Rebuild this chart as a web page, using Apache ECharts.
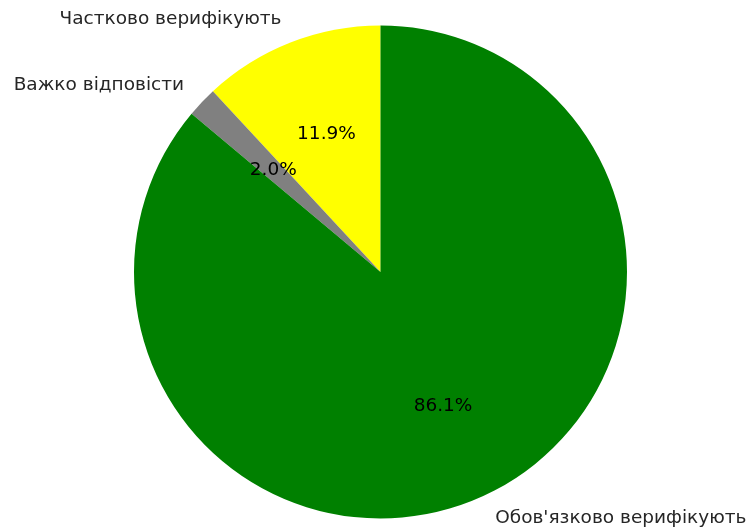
<!DOCTYPE html>
<html>
<head>
<meta charset="utf-8">
<script src="https://cdn.jsdelivr.net/npm/echarts@6/dist/echarts.min.js"></script>
<style>
html,body{margin:0;padding:0;background:#fff;}
#chart{width:751px;height:532px;}
</style>
</head>
<body>
<div id="chart"></div>
<script>
const categories = ["Частково верифікують", "Важко відповісти", "Обов'язково верифікують"];
const values = [11.9, 2.0, 86.1];
const colors = ["#ffff00", "#808080", "#008000"];

const cx = 380.5, cy = 272, R = 246.5;
const fontSize = 18.5;
const font = "DejaVu Sans";
// ECharts puts inside labels at r/2 + 3px; percentages sit at ~0.6R
const pctRadius = 2 * (0.6 * R - 3);

const chart = echarts.init(document.getElementById('chart'), null, {renderer: 'canvas'});
const pieData = categories.map((c, i) => ({name: c, value: values[i], itemStyle: {color: colors[i]}}));
const pctData = categories.map((c, i) => ({name: c, value: values[i]}));

chart.setOption({
  animation: false,
  backgroundColor: '#ffffff',
  series: [
    {
      type: 'pie',
      center: [cx, cy],
      radius: [0, R],
      startAngle: 90,
      clockwise: false,
      avoidLabelOverlap: false,
      silent: true,
      itemStyle: {borderWidth: 0},
      label: {
        show: true,
        position: 'outside',
        formatter: '{b}',
        color: '#262626',
        fontFamily: font,
        fontSize: fontSize,
        distanceToLabelLine: 0
      },
      labelLine: {show: false, length: R * 0.1, length2: 0},
      data: pieData
    },
    {
      type: 'pie',
      center: [cx, cy],
      radius: [0, pctRadius],
      startAngle: 90,
      clockwise: false,
      avoidLabelOverlap: false,
      silent: true,
      itemStyle: {color: 'rgba(0,0,0,0)', borderWidth: 0},
      label: {
        show: true,
        position: 'inside',
        formatter: p => p.value.toFixed(1) + '%',
        color: '#000000',
        fontFamily: font,
        fontSize: fontSize
      },
      labelLine: {show: false},
      data: pctData
    }
  ]
});
</script>
</body>
</html>
